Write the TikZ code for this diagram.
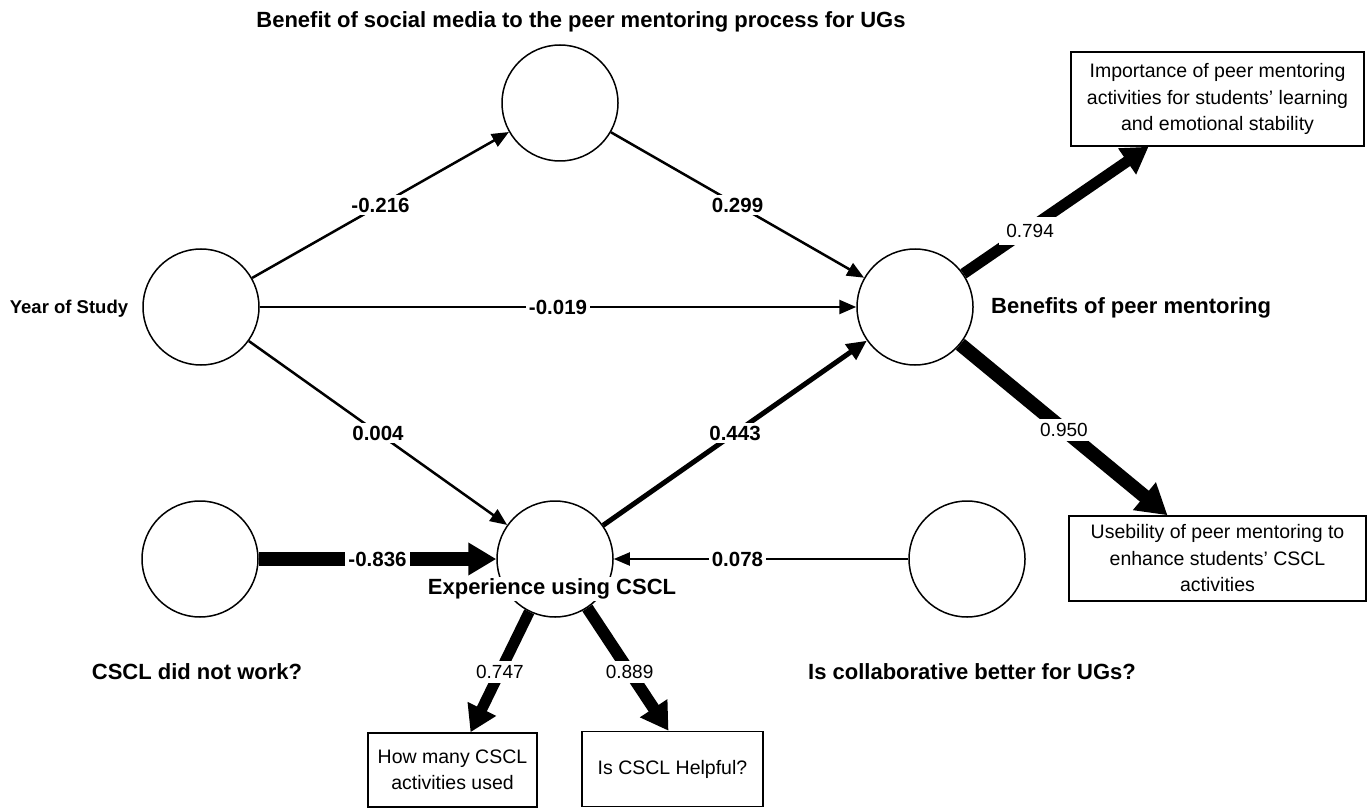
\documentclass[tikz,border=0pt]{standalone}
\usepackage{fontspec}
\setmainfont{Liberation Sans}
\usetikzlibrary{arrows.meta}
\begin{document}
\begin{tikzpicture}[x=1pt,y=-1pt,
  lat/.style={circle,draw,line width=1.5pt,minimum size=116pt,inner sep=0pt},
  ind/.style={rectangle,draw,line width=1.5pt,align=center,font=\fontsize{19.5}{26.5}\selectfont,inner sep=0pt},
  lbl/.style={font=\bfseries\fontsize{22}{24}\selectfont,inner sep=1pt},
  coef/.style={fill=white,inner sep=3pt,font=\bfseries\fontsize{20.5}{22}\selectfont},
  load/.style={fill=white,inner sep=3pt,font=\fontsize{19}{21}\selectfont},
  thinarr/.style={line width=2.5pt,-{Triangle[length=17pt,width=14pt]}},
  medarr/.style={line width=5pt,-{Triangle[length=20pt,width=18pt]}},
  heavyarr/.style={line width=#1,-{Triangle[length=28pt,width=31pt]}},
]
\useasboundingbox (0,0) rectangle (1372,810);

% latent variables
\node[lat] (ys)  at (201,307) {};
\node[lat] (sm)  at (560,103) {};
\node[lat] (ben) at (915,307) {};
\node[lat] (exp) at (555,559) {};
\node[lat] (cs)  at (200,559) {};
\node[lat] (ic)  at (967,559) {};

% indicators
\node[ind,minimum width=293pt,minimum height=94pt] (imp) at (1217.5,99)
  {Importance of peer mentoring\\activities for students' learning\\and emotional stability};
\node[ind,minimum width=297pt,minimum height=85pt] (use) at (1217.5,558.5)
  {Usebility of peer mentoring to\\enhance students' CSCL\\activities};
\node[ind,minimum width=169pt,minimum height=74pt] (hm) at (452.5,770)
  {How many CSCL\\activities used};
\node[ind,minimum width=181pt,minimum height=75pt] (hp) at (672.5,769)
  {Is CSCL Helpful?};

% labels
\node[lbl] (tsm) at (581,22) {Benefit of social media to the peer mentoring process for UGs};
\node[font=\bfseries\fontsize{18.5}{20}\selectfont] (tys) at (69,309) {Year of Study};
\node[lbl,anchor=west] (tben) at (990,308) {Benefits of peer mentoring};
\node[lbl,fill=white,inner sep=2pt] (texp) at (552,589) {Experience using CSCL};
\node[lbl] (tcs) at (197,672) {CSCL did not work?};
\node[lbl] (tic) at (972,672) {Is collaborative better for UGs?};

% structural paths
\draw[thinarr] (ys) -- node[coef,pos=0.5] {-0.216} (sm);
\draw[thinarr] (sm) -- node[coef,pos=0.5] {0.299} (ben);
\draw[thinarr] (ys) -- node[coef,pos=0.5] {-0.019} (ben);
\draw[thinarr] (ys) -- node[coef,pos=0.5] {0.004} (exp);
\draw[medarr] (exp) -- node[coef,pos=0.5] {0.443} (ben);
\draw[heavyarr=14pt] (cs) -- node[coef,pos=0.5] {-0.836} (exp);
\draw[line width=2pt,-{Triangle[length=16pt,width=13pt]}] (ic) -- node[coef,pos=0.58] {0.078} (exp);

% measurement paths
\draw[line width=11pt,-{Triangle[length=26pt,width=30pt]}] (ben) -- node[load,pos=0.36,inner sep=7pt,yshift=-3pt] {0.794} ([xshift=-69pt]imp.south);
\draw[line width=14pt,-{Triangle[length=30pt,width=34pt]}] (ben) -- node[load,pos=0.5,inner sep=4pt] {0.950} ([xshift=-50pt]use.north);
\draw[line width=11pt,-{Triangle[length=26pt,width=30pt]}] (exp) -- node[load,pos=0.5,inner sep=4pt] {0.747} ([xshift=18pt]hm.north);
\draw[line width=12pt,-{Triangle[length=27pt,width=31pt]}] (exp) -- node[load,pos=0.52,inner sep=4pt] {0.889} ([xshift=-4pt]hp.north);
\end{tikzpicture}
\end{document}
